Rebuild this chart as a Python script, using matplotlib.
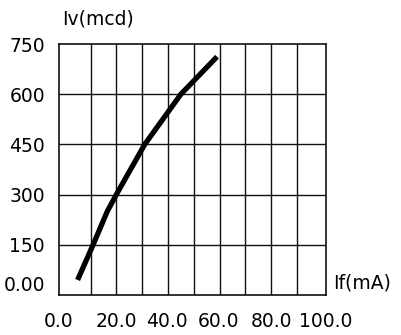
import matplotlib
matplotlib.use("Agg")
import matplotlib.pyplot as plt
import numpy as np

# Data
current_ma = [5, 11, 16.5, 20, 31, 45, 59]
intensity_mcd = [45, 150, 250, 300, 450, 600, 712]

x_tick_labels = ["0.0", "20.0", "40.0", "60.0", "80.0", "100.0"]
x_tick_values = [0, 20, 40, 60, 80, 100]
y_tick_labels = ["0.00", "150", "300", "450", "600", "750"]
y_tick_values = [0, 150, 300, 450, 600, 750]

# label placement nudges (styling, as in the reference)
x_label_pos = [-2.2, 20.2, 39.7, 59.5, 80.0, 101.2]

plt.rcParams['font.family'] = ['DejaVu Sans']
FS = 13.5

fig = plt.figure(figsize=(4.01, 3.35), dpi=100)
ax = fig.add_axes([59/401, 40/335, 267/401, 251/335])

ax.set_xlim(0, 100)
ax.set_ylim(0, 750)

ax.set_yticks(y_tick_values)
ax.set_yticklabels(y_tick_labels, fontsize=FS)
ax.set_xticks(x_label_pos)
ax.set_xticklabels(x_tick_labels, fontsize=FS)
ax.grid(False)
for xv in np.arange(10, 100, 10):
    ax.axvline(xv, color='#111111', lw=1.0, zorder=1)
for yv in y_tick_values[1:-1]:
    ax.axhline(yv, color='#111111', lw=1.0, zorder=1)

ax.tick_params(axis='both', which='both', length=0)
ax.tick_params(axis='y', pad=10)
ax.tick_params(axis='x', pad=12)
for lab in ax.get_yticklabels():
    if lab.get_text() == "0.00":
        lab.set_va('bottom')

for s in ax.spines.values():
    s.set_color('#111111')
    s.set_linewidth(1.2)

ax.plot(current_ma, intensity_mcd, color='black', lw=3.8,
        solid_capstyle='butt', solid_joinstyle='round', zorder=3)

ax.text(0.145, 1.10, "Iv(mcd)", transform=ax.transAxes, ha='center',
        va='center', fontsize=FS)
ax.text(1.026, 0.01, "If(mA)", transform=ax.transAxes, ha='left',
        va='bottom', fontsize=FS)

fig.savefig("out.png", dpi=100)
